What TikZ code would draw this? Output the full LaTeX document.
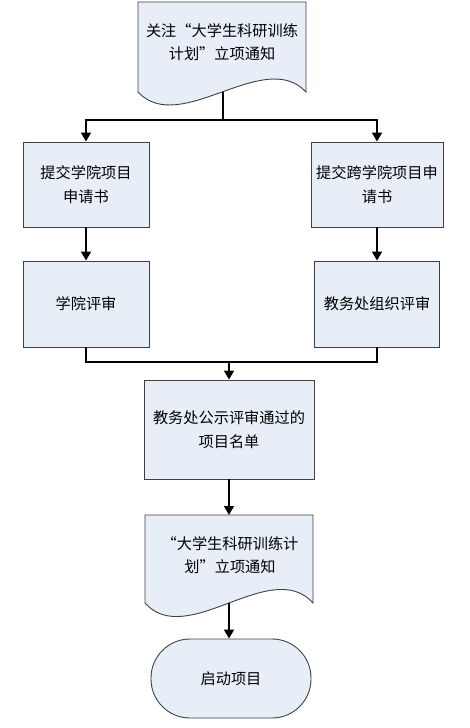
\documentclass[tikz,border=0pt]{standalone}
\usepackage{fontspec}
\newfontfamily\cjk{Noto Sans CJK SC}
\usetikzlibrary{positioning,calc,arrows.meta}
\definecolor{boxfill}{HTML}{E8EEF7}
\definecolor{edgegray}{HTML}{404040}
\tikzset{
  txt/.style     = {font=\cjk\fontsize{15.2}{23.5}\selectfont, align=center, inner sep=0pt},
  pbox/.style    = {txt, draw=edgegray, fill=boxfill, line width=0.9pt},
  docline/.style = {draw=edgegray, fill=boxfill, line width=0.9pt},
  link/.style    = {line width=1.6pt},
  flow/.style    = {line width=1.6pt, -{Triangle[length=9pt,width=10pt]}},
}
\begin{document}
\begin{tikzpicture}[x=1pt,y=-1pt]
  \useasboundingbox (0,0) rectangle (470,728);
  % document shapes
  \draw[docline] (138,2) -- (306,2) -- (306,92)
    .. controls (264,47) and (180,137) .. (138,92) -- cycle;
  \node[txt] (notice) at (222,42) {关注“大学生科研训练\\计划”立项通知};
  \draw[docline] (145,515) -- (313,515) -- (313,603)
    .. controls (271,556) and (187,650) .. (145,603) -- cycle;
  \node[txt] (notify) at (230,555) {“大学生科研训练计\\划”立项通知};
  % process boxes
  \node[pbox, minimum width=126pt, minimum height=85pt] (apply1) at (86,184.5) {提交学院项目\\申请书};
  \node[pbox, minimum width=132pt, minimum height=85pt] (apply2) at (377,184.5) {提交跨学院项目申\\请书};
  \node[pbox, minimum width=126pt, minimum height=86pt] (review1) at (86,304) {学院评审};
  \node[pbox, minimum width=125pt, minimum height=86pt] (review2) at (377,304) {教务处组织评审};
  \node[pbox, minimum width=170pt, minimum height=99pt] (publish) at (229,429.5) {教务处公示评审通过的\\项目名单};
  \node[pbox, minimum width=160pt, minimum height=79pt, rounded corners=39pt] (start) at (231,678.5) {启动项目};
  % connectors
  \coordinate (notice-out) at (223,92);
  \coordinate (split) at (223,120);
  \coordinate (merge) at (229,362);
  \coordinate (notify-in) at (229,515);
  \coordinate (notify-out) at (229,603);
  \draw[link] (notice-out) -- (split);
  \draw[flow] (split) -| (apply1);
  \draw[flow] (split) -| (apply2);
  \draw[flow] (apply1) -- (review1);
  \draw[flow] (apply2) -- (review2);
  \draw[link] (review1) |- (merge);
  \draw[link] (review2) |- (merge);
  \draw[flow] (merge) -- (publish);
  \draw[flow] (publish.south -| notify-in) -- (notify-in);
  \draw[flow] (notify-out) -- (start.north -| notify-out);
\end{tikzpicture}
\end{document}
